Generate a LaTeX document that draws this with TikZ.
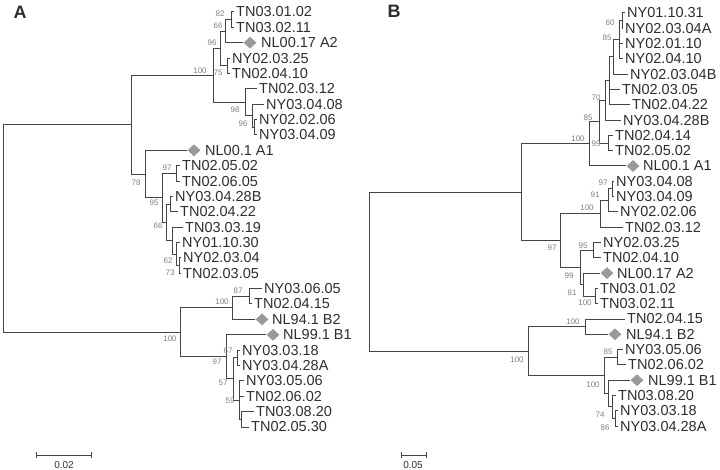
\documentclass[tikz,border=0pt]{standalone}
\usepackage{fontspec}
\setmainfont{Liberation Sans}
\usetikzlibrary{calc,shapes.geometric}
\definecolor{textc}{HTML}{2E2E2E}
\definecolor{linec}{HTML}{444444}
\definecolor{bootc}{HTML}{808080}
\definecolor{diac}{HTML}{9A9A9A}
\newcommand\jn[4]{\path let \p1=($(#3)!0.5!(#4)$) in coordinate (#1) at (#2pt,\y1);}
\newcommand\ed[2]{\draw[br] (#1) |- (#2);}
\begin{document}
\begin{tikzpicture}[x=1pt,y=-1pt,
  br/.style={draw=linec,line width=1pt},
  leaf/.style={anchor=west,inner xsep=2pt,inner ysep=0pt,text=textc,font=\fontsize{14.5}{15}\selectfont},
  boot/.style={inner sep=0pt,text=bootc,font=\fontsize{8}{9}\selectfont},
  dia/.style={diamond,fill=diac,minimum width=13pt,minimum height=12pt,inner sep=0pt},
  panel/.style={inner sep=0pt,text=textc,font=\fontsize{18}{18}\selectfont\bfseries},
  scl/.style={inner sep=0pt,text=textc,font=\fontsize{10}{10}\selectfont}]
\useasboundingbox (0,0) rectangle (720,470);

\node[panel] (pA) at (20,12) {A};
\node[panel] (pB) at (394,11) {B};

% ---------------- Panel A leaves
\node[leaf] (A0) at (234,12.0) {TN03.01.02};
\node[leaf] (A1) at (234,27.4) {TN03.02.11};
\node[dia] (A2) at (250,42.7) {};
\node[leaf] (A2t) at (259,42.7) {NL00.17 A2};
\node[leaf] (A3) at (230,58.1) {NY02.03.25};
\node[leaf] (A4) at (230,73.5) {TN02.04.10};
\node[leaf] (A5) at (257,88.9) {TN02.03.12};
\node[leaf] (A6) at (264,104.2) {NY03.04.08};
\node[leaf] (A7) at (257,119.6) {NY02.02.06};
\node[leaf] (A8) at (257,135.0) {NY03.04.09};
\node[dia] (A9) at (194,150.3) {};
\node[leaf] (A9t) at (203,150.3) {NL00.1 A1};
\node[leaf] (A10) at (180,165.7) {TN02.05.02};
\node[leaf] (A11) at (180,181.1) {TN02.06.05};
\node[leaf] (A12) at (173,196.4) {NY03.04.28B};
\node[leaf] (A13) at (178,211.8) {TN02.04.22};
\node[leaf] (A14) at (183,227.2) {TN03.03.19};
\node[leaf] (A15) at (180,242.6) {NY01.10.30};
\node[leaf] (A16) at (181,257.9) {NY02.03.04};
\node[leaf] (A17) at (181,273.3) {TN02.03.05};
\node[leaf] (A18) at (262,288.7) {NY03.06.05};
\node[leaf] (A19) at (252,304.0) {TN02.04.15};
\node[dia] (A20) at (262,319.4) {};
\node[leaf] (A20t) at (270,319.4) {NL94.1 B2};
\node[dia] (A21) at (273,334.8) {};
\node[leaf] (A21t) at (281,334.8) {NL99.1 B1};
\node[leaf] (A22) at (240,350.1) {NY03.03.18};
\node[leaf] (A23) at (240,365.5) {NY03.04.28A};
\node[leaf] (A24) at (244,380.9) {NY03.05.06};
\node[leaf] (A25) at (244,396.3) {TN02.06.02};
\node[leaf] (A26) at (254,411.6) {TN03.08.20};
\node[leaf] (A27) at (249,427.0) {TN02.05.30};

% ---------------- Panel A internal nodes
\jn{a82}{231}{A0}{A1}
\jn{a66}{225}{a82}{A2}
\jn{a75}{227}{A3}{A4}
\jn{a96}{220}{a66}{a75}
\jn{aD}{254}{A7}{A8}
\jn{aC}{252}{A6}{aD}
\jn{a98}{245}{A5}{aC}
\jn{a100}{213}{a96}{a98}
\jn{a97}{176}{A10}{A11}
\jn{aY}{170}{A12}{A13}
\jn{a73}{179}{A16}{A17}
\jn{a62}{176}{A15}{a73}
\jn{a66b}{172}{A14}{a62}
\jn{aZ}{166}{aY}{a66b}
\jn{a95}{162}{a97}{aZ}
\jn{a78}{145}{A9}{a95}
\jn{aU}{131}{a100}{a78}
\jn{a87}{249}{A18}{A19}
\jn{aB100}{232}{a87}{A20}
\jn{a67}{237}{A22}{A23}
\jn{aQ}{241}{A26}{A27}
\jn{a59}{239}{A24}{aQ}
\jn{a57}{233}{a67}{a59}
\jn{a97b}{226}{A21}{a57}
\jn{aB}{180}{aB100}{a97b}
\jn{aR}{3.5}{aU}{aB}

% ---------------- Panel A edges
\ed{aR}{aU}\ed{aR}{aB}
\ed{aU}{a100}\ed{aU}{a78}
\ed{a100}{a96}\ed{a100}{a98}
\ed{a96}{a66}\ed{a96}{a75}
\ed{a66}{a82}\ed{a66}{A2}
\ed{a82}{A0}\ed{a82}{A1}
\ed{a75}{A3}\ed{a75}{A4}
\ed{a98}{A5}\ed{a98}{aC}
\ed{aC}{A6}\ed{aC}{aD}
\ed{aD}{A7}\ed{aD}{A8}
\ed{a78}{A9}\ed{a78}{a95}
\ed{a95}{a97}\ed{a95}{aZ}
\ed{a97}{A10}\ed{a97}{A11}
\ed{aZ}{aY}\ed{aZ}{a66b}
\ed{aY}{A12}\ed{aY}{A13}
\ed{a66b}{A14}\ed{a66b}{a62}
\ed{a62}{A15}\ed{a62}{a73}
\ed{a73}{A16}\ed{a73}{A17}
\ed{aB}{aB100}\ed{aB}{a97b}
\ed{aB100}{a87}\ed{aB100}{A20}
\ed{a87}{A18}\ed{a87}{A19}
\ed{a97b}{A21}\ed{a97b}{a57}
\ed{a57}{a67}\ed{a57}{a59}
\ed{a67}{A22}\ed{a67}{A23}
\ed{a59}{A24}\ed{a59}{A25}\ed{a59}{aQ}
\ed{aQ}{A26}\ed{aQ}{A27}

% ---------------- Panel A bootstrap values
\node[boot] (ba1) at (220,14) {82};
\node[boot] (ba2) at (218,26) {66};
\node[boot] (ba3) at (212,43) {96};
\node[boot] (ba4) at (200,71) {100};
\node[boot] (ba5) at (218,73) {75};
\node[boot] (ba6) at (235,110) {98};
\node[boot] (ba7) at (243,124) {96};
\node[boot] (ba8) at (136,183) {78};
\node[boot] (ba9) at (167,168) {97};
\node[boot] (ba10) at (154,203) {95};
\node[boot] (ba11) at (158,226) {66};
\node[boot] (ba12) at (168,261) {62};
\node[boot] (ba13) at (170,273) {73};
\node[boot] (ba14) at (238,291) {87};
\node[boot] (ba15) at (222,302) {100};
\node[boot] (ba16) at (170,339) {100};
\node[boot] (ba17) at (228,351) {67};
\node[boot] (ba18) at (217,362) {97};
\node[boot] (ba19) at (223,383) {57};
\node[boot] (ba20) at (230,401) {59};

% ---------------- Panel A scale
\coordinate (sa1) at (36,455);
\coordinate (sa2) at (91,455);
\draw[br] (sa1) -- (sa2);
\draw[br] ([yshift=3pt]sa1) -- ([yshift=-3pt]sa1);
\draw[br] ([yshift=3pt]sa2) -- ([yshift=-3pt]sa2);
\node[scl] (sal) at (64,465) {0.02};

% ---------------- Panel B leaves
\node[leaf] (B0) at (625,13.0) {NY01.10.31};
\node[leaf] (B1) at (623,28.3) {NY02.03.04A};
\node[leaf] (B2) at (623,43.6) {NY02.01.10};
\node[leaf] (B3) at (623,58.9) {NY02.04.10};
\node[leaf] (B4) at (628,74.2) {NY02.03.04B};
\node[leaf] (B5) at (620,89.5) {TN02.03.05};
\node[leaf] (B6) at (630,104.8) {TN02.04.22};
\node[leaf] (B7) at (621,120.1) {NY03.04.28B};
\node[leaf] (B8) at (613,135.4) {TN02.04.14};
\node[leaf] (B9) at (613,150.7) {TN02.05.02};
\node[dia] (B10) at (633,166.0) {};
\node[leaf] (B10t) at (641,166.0) {NL00.1 A1};
\node[leaf] (B11) at (614,181.3) {NY03.04.08};
\node[leaf] (B12) at (614,196.6) {NY03.04.09};
\node[leaf] (B13) at (618,211.9) {NY02.02.06};
\node[leaf] (B14) at (623,227.2) {TN02.03.12};
\node[leaf] (B15) at (601,242.5) {NY02.03.25};
\node[leaf] (B16) at (601,257.8) {TN02.04.10};
\node[dia] (B17) at (607,273.1) {};
\node[leaf] (B17t) at (615,273.1) {NL00.17 A2};
\node[leaf] (B18) at (598,288.4) {TN03.01.02};
\node[leaf] (B19) at (598,303.7) {TN03.02.11};
\node[leaf] (B20) at (625,319.0) {TN02.04.15};
\node[dia] (B21) at (615,334.3) {};
\node[leaf] (B21t) at (624,334.3) {NL94.1 B2};
\node[leaf] (B22) at (623,349.6) {NY03.05.06};
\node[leaf] (B23) at (626,364.9) {TN02.06.02};
\node[dia] (B24) at (637,380.2) {};
\node[leaf] (B24t) at (646,380.2) {NL99.1 B1};
\node[leaf] (B25) at (616,395.5) {TN03.08.20};
\node[leaf] (B26) at (618,410.8) {NY03.03.18};
\node[leaf] (B27) at (618,426.1) {NY03.04.28A};

% ---------------- Panel B internal nodes
\jn{b60}{622}{B0}{B1}
\jn{b85t}{619}{b60}{B3}
\jn{bR}{613}{b85t}{B4}
\jn{bS}{609}{bR}{B6}
\jn{b70}{605}{bS}{B7}
\jn{b99}{608}{B8}{B9}
\jn{b85}{599}{b70}{b99}
\jn{b100}{589}{b85}{B10}
\jn{b97s}{612}{B11}{B12}
\jn{b91}{608}{b97s}{B13}
\jn{b100b}{600}{b91}{B14}
\jn{b95}{593}{B15}{B16}
\jn{b100c}{595}{B18}{B19}
\jn{b81}{583}{B17}{b100c}
\jn{b99b}{580}{b95}{b81}
\jn{b97}{560}{b100b}{b99b}
\jn{bU}{521}{b100}{b97}
\jn{b100u}{585}{B20}{B21}
\jn{b85l}{617}{B22}{B23}
\jn{b86}{615}{B26}{B27}
\jn{b74}{612}{B25}{b86}
\jn{bZ}{608}{B24}{b74}
\jn{b100l}{604}{b85l}{bZ}
\jn{bL}{528}{b100u}{b100l}
\jn{bRt}{369}{bU}{bL}

% ---------------- Panel B edges
\ed{bRt}{bU}\ed{bRt}{bL}
\ed{bU}{b100}\ed{bU}{b97}
\ed{b100}{b85}\ed{b100}{B10}
\ed{b85}{b70}\ed{b85}{b99}
\ed{b70}{bS}\ed{b70}{B7}
\ed{bS}{bR}\ed{bS}{B5}\ed{bS}{B6}
\ed{bR}{b85t}\ed{bR}{B4}
\ed{b85t}{b60}\ed{b85t}{B2}\ed{b85t}{B3}
\ed{b60}{B0}\ed{b60}{B1}
\ed{b99}{B8}\ed{b99}{B9}
\ed{b97}{b100b}\ed{b97}{b99b}
\ed{b100b}{b91}\ed{b100b}{B14}
\ed{b91}{b97s}\ed{b91}{B13}
\ed{b97s}{B11}\ed{b97s}{B12}
\ed{b99b}{b95}\ed{b99b}{b81}
\ed{b95}{B15}\ed{b95}{B16}
\ed{b81}{B17}\ed{b81}{b100c}
\ed{b100c}{B18}\ed{b100c}{B19}
\ed{bL}{b100u}\ed{bL}{b100l}
\ed{b100u}{B20}\ed{b100u}{B21}
\ed{b100l}{b85l}\ed{b100l}{bZ}
\ed{b85l}{B22}\ed{b85l}{B23}
\ed{bZ}{B24}\ed{bZ}{b74}
\ed{b74}{B25}\ed{b74}{b86}
\ed{b86}{B26}\ed{b86}{B27}

% ---------------- Panel B bootstrap values
\node[boot] (bb1) at (610,23) {60};
\node[boot] (bb2) at (607,38) {85};
\node[boot] (bb3) at (596,98) {70};
\node[boot] (bb4) at (588,118) {85};
\node[boot] (bb5) at (578,139) {100};
\node[boot] (bb6) at (596,144) {99};
\node[boot] (bb7) at (603,183) {97};
\node[boot] (bb8) at (595,195) {91};
\node[boot] (bb9) at (587,208) {100};
\node[boot] (bb10) at (552,248) {97};
\node[boot] (bb11) at (583,246) {95};
\node[boot] (bb12) at (569,276) {99};
\node[boot] (bb13) at (572,293) {81};
\node[boot] (bb14) at (585,303) {100};
\node[boot] (bb15) at (573,322) {100};
\node[boot] (bb16) at (517,360) {100};
\node[boot] (bb17) at (608,352) {85};
\node[boot] (bb18) at (593,385) {100};
\node[boot] (bb19) at (600,415) {74};
\node[boot] (bb20) at (605,428) {86};

% ---------------- Panel B scale
\coordinate (sb1) at (401,455);
\coordinate (sb2) at (426,455);
\draw[br] (sb1) -- (sb2);
\draw[br] ([yshift=3pt]sb1) -- ([yshift=-3pt]sb1);
\draw[br] ([yshift=3pt]sb2) -- ([yshift=-3pt]sb2);
\node[scl] (sbl) at (413,465) {0.05};
\end{tikzpicture}
\end{document}
